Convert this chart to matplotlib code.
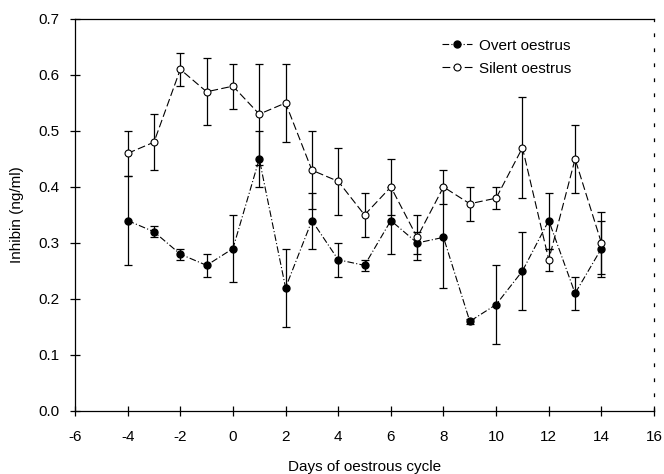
import matplotlib.pyplot as plt

plt.rcParams['font.family'] = ['Liberation Sans', 'DejaVu Sans']
plt.rcParams['axes.unicode_minus'] = False

# days of cycle
days = [-4, -3, -2, -1, 0, 1, 2, 3, 4, 5, 6, 7, 8, 9, 10, 11, 12, 13, 14]

# inhibin (ng/ml), mean and error
overt = [0.34, 0.32, 0.28, 0.26, 0.29, 0.45, 0.22, 0.34, 0.27, 0.26,
         0.34, 0.30, 0.31, 0.16, 0.19, 0.25, 0.34, 0.21, 0.29]
overt_err = [0.08, 0.01, 0.01, 0.02, 0.06, 0.05, 0.07, 0.05, 0.03, 0.01,
             0.06, 0.02, 0.09, 0.005, 0.07, 0.07, 0.05, 0.03, 0.05]

silent = [0.46, 0.48, 0.61, 0.57, 0.58, 0.53, 0.55, 0.43, 0.41, 0.35,
          0.40, 0.31, 0.40, 0.37, 0.38, 0.47, 0.27, 0.45, 0.30]
silent_err = [0.04, 0.05, 0.03, 0.06, 0.04, 0.09, 0.07, 0.07, 0.06, 0.04,
              0.05, 0.04, 0.03, 0.03, 0.02, 0.09, 0.02, 0.06, 0.055]

fig = plt.figure(figsize=(6.64, 4.74), dpi=100)
ax = fig.add_axes([0.113, 0.133, 0.872, 0.827])

# error bars
ax.errorbar(days, overt, yerr=overt_err, fmt='none', ecolor='black',
            elinewidth=0.9, capsize=3, capthick=0.9)
ax.errorbar(days, silent, yerr=silent_err, fmt='none', ecolor='black',
            elinewidth=0.9, capsize=3, capthick=0.9)

# lines with markers
ax.plot(days, overt, marker='o', color='black', markersize=5,
        ls=(0, (6, 2, 1, 2)), lw=0.8, label='Overt oestrus')
ax.plot(days, silent, marker='o', color='black', markersize=5,
        markerfacecolor='white', markeredgewidth=0.8,
        ls=(0, (7, 3)), lw=0.8, label='Silent oestrus')

ax.set_xlim(-6, 16)
ax.set_ylim(0, 0.7)
ax.set_xticks(range(-6, 17, 2))
ax.set_yticks([0.0, 0.1, 0.2, 0.3, 0.4, 0.5, 0.6, 0.7])
ax.set_yticklabels(['0.0', '0.1', '0.2', '0.3', '0.4', '0.5', '0.6', '0.7'])
ax.tick_params(direction='inout', length=7, width=0.9, labelsize=11)
ax.tick_params(axis='x', pad=10)
ax.tick_params(axis='y', pad=8)

for s in ['left', 'bottom', 'top']:
    ax.spines[s].set_linewidth(0.9)
ax.spines['right'].set_linestyle((0, (2, 10)))
ax.spines['right'].set_linewidth(0.9)

ax.set_xlabel('Days of oestrous cycle', fontsize=11, labelpad=12)
ax.set_ylabel('Inhibin (ng/ml)', fontsize=11, labelpad=10)

ax.legend(loc='upper right', bbox_to_anchor=(0.88, 0.985), frameon=False,
          fontsize=11, handlelength=2, handletextpad=0.4, labelspacing=0.6)

fig.savefig('out.png', dpi=100)
